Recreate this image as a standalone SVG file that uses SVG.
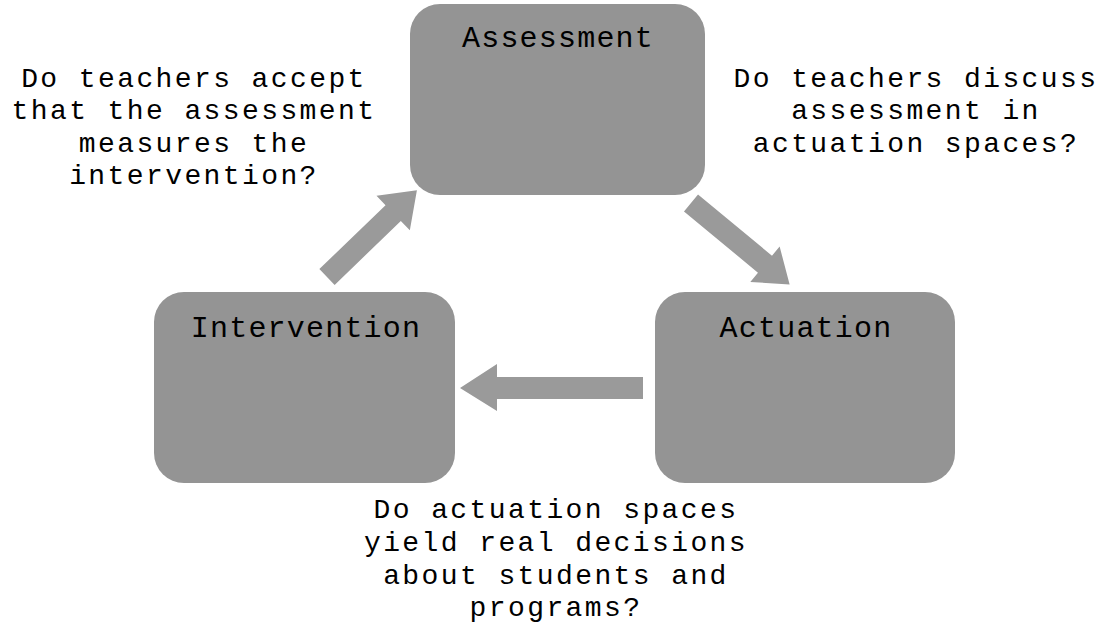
<svg xmlns="http://www.w3.org/2000/svg" width="1110" height="623" viewBox="0 0 1110 623">
  <style>
    .box { fill: #949494; }
    .arrow { fill: #9a9a9a; }
    .title { font-family: "Liberation Mono", "Courier New", monospace; font-size: 30px; letter-spacing: 1.2px; fill: #000; text-anchor: middle; }
    .label { font-family: "Liberation Mono", "Courier New", monospace; font-size: 28px; letter-spacing: 2.4px; fill: #000; text-anchor: middle; }
  </style>
  <rect width="1110" height="623" fill="#ffffff"/>
  <g id="connectors">
    <polygon class="arrow" transform="translate(327,277) rotate(-44)" points="0,-11 92,-11 92,-24 125,0 92,24 92,11 0,11"/>
    <polygon class="arrow" transform="translate(691,203) rotate(39.6)" points="0,-11 96,-11 96,-23 128,0 96,23 96,11 0,11"/>
    <polygon class="arrow" points="643,377 497,377 497,364 460,388 497,411 497,399 643,399"/>
  </g>
  <g id="node-assessment">
    <rect class="box" x="410" y="4" width="295" height="191" rx="30" ry="30"/>
    <text class="title" x="558" y="47">Assessment</text>
  </g>
  <g id="node-intervention">
    <rect class="box" x="154" y="292" width="301" height="191" rx="30" ry="30"/>
    <text class="title" x="306" y="337">Intervention</text>
  </g>
  <g id="node-actuation">
    <rect class="box" x="655" y="292" width="300" height="191" rx="30" ry="30"/>
    <text class="title" x="806" y="337">Actuation</text>
  </g>
  <g id="label-left">
    <text class="label" x="194" y="86.5">Do teachers accept</text>
    <text class="label" x="194" y="119">that the assessment</text>
    <text class="label" x="194" y="151.5">measures the</text>
    <text class="label" x="194" y="184">intervention?</text>
  </g>
  <g id="label-right">
    <text class="label" x="916" y="86.5">Do teachers discuss</text>
    <text class="label" x="916" y="119">assessment in</text>
    <text class="label" x="916" y="151.5">actuation spaces?</text>
  </g>
  <g id="label-bottom">
    <text class="label" x="556" y="518">Do actuation spaces</text>
    <text class="label" x="556" y="551">yield real decisions</text>
    <text class="label" x="556" y="584">about students and</text>
    <text class="label" x="556" y="616">programs?</text>
  </g>
</svg>
